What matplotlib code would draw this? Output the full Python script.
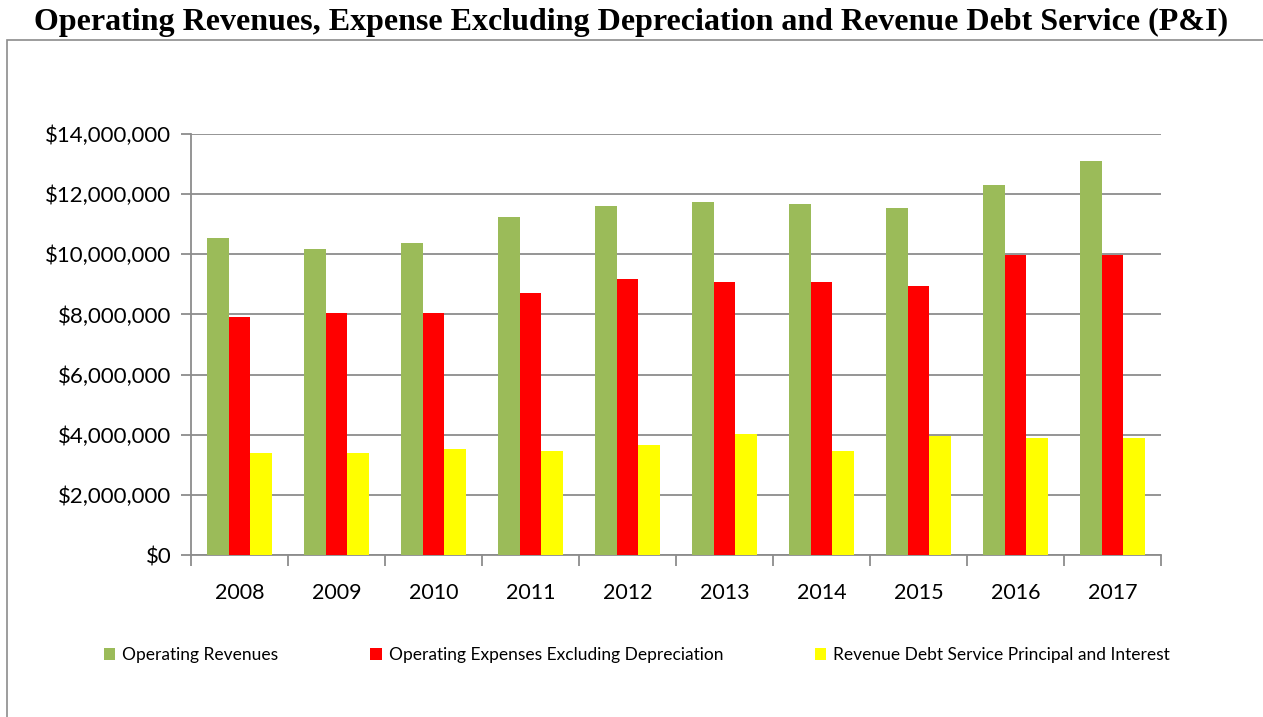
import numpy as np
import matplotlib
matplotlib.use("Agg")
import matplotlib.pyplot as plt
from matplotlib.patches import Rectangle
from matplotlib.ticker import FuncFormatter, FixedLocator

years = ['2008', '2009', '2010', '2011', '2012', '2013', '2014', '2015', '2016', '2017']
revenues = [10540000, 10180000, 10380000, 11240000, 11600000,
            11740000, 11670000, 11540000, 12300000, 13090000]
expenses = [7900000, 8060000, 8060000, 8700000, 9190000,
            9090000, 9090000, 8960000, 9980000, 9980000]
debt_service = [3400000, 3400000, 3530000, 3470000, 3670000,
                4030000, 3470000, 3970000, 3900000, 3900000]

series_names = ['Operating Revenues',
                'Operating Expenses Excluding Depreciation',
                'Revenue Debt Service Principal and Interest']
colors = ['#9BBB59', '#FF0000', '#FFFF00']

plt.rcParams['font.family'] = ['Lato', 'DejaVu Sans']

fig = plt.figure(figsize=(12.63, 7.17), dpi=100)
ax = fig.add_axes([191 / 1263, 1 - 555 / 717, (1161 - 191) / 1263, (555 - 134) / 717])

# outer chart border (only top and left edges visible)
fig.patches.append(Rectangle((7 / 1263, -0.05), 1.1, 1 - 40 / 717 + 0.05,
                             transform=fig.transFigure, fill=False,
                             edgecolor='#8C8C8C', linewidth=1.2))

x = np.arange(len(years))
w = 0.225
for i, (vals, name, c) in enumerate(zip([revenues, expenses, debt_service], series_names, colors)):
    ax.bar(x + (i - 1) * w, vals, width=w, color=c, label=name, zorder=3)

ax.set_xlim(-0.5, len(years) - 0.5)
ax.set_ylim(0, 14000000)
ax.set_yticks(np.arange(0, 14000001, 2000000))
ax.yaxis.set_major_formatter(FuncFormatter(lambda v, p: '${:,.0f}'.format(v)))
ax.grid(axis='y', color='#8C8C8C', linewidth=1.3, zorder=0)

ax.set_xticks(x)
ax.set_xticklabels(years)
ax.xaxis.set_minor_locator(FixedLocator(np.arange(-0.5, len(years), 1)))
ax.tick_params(axis='x', which='major', length=0, pad=20, labelsize=15.5)
ax.tick_params(axis='x', which='minor', length=8, width=1.3, color='#8C8C8C')
ax.tick_params(axis='y', length=7, width=1.3, color='#8C8C8C', labelsize=16, pad=7)

for s in ['top', 'right']:
    ax.spines[s].set_visible(False)
for s in ['left', 'bottom']:
    ax.spines[s].set_color('#8C8C8C')
    ax.spines[s].set_linewidth(1.3)

fig.text(0.5, 1 - 22 / 717, 'Operating Revenues, Expense Excluding Depreciation and Revenue Debt Service (P&I)',
         ha='center', va='center', fontsize=23, fontweight='bold', family='Liberation Serif')

leg = ax.legend(ncol=3, loc='center', bbox_to_anchor=((637 - 191) / 970, (555 - 655) / (555 - 134)),
                frameon=False, fontsize=12.5, handlelength=0.65, handleheight=0.65,
                handletextpad=0.4, columnspacing=5.3)

fig.savefig('out.png', dpi=100)
